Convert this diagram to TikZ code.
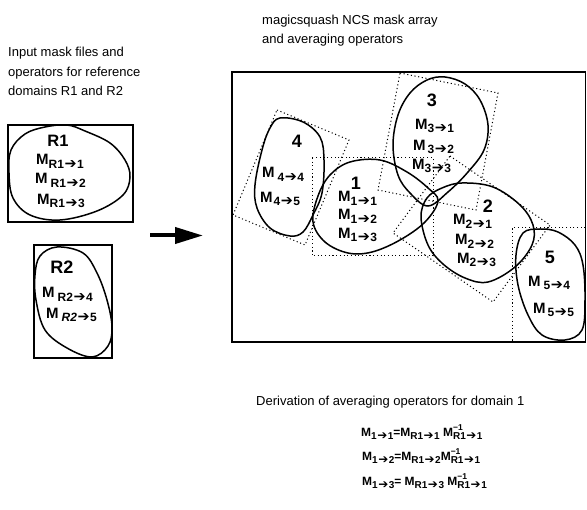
\documentclass[tikz,border=0pt]{standalone}
\usepackage{fontspec}
\setmainfont{Liberation Sans}
\newfontfamily\arrowfont{DejaVu Sans}
\usetikzlibrary{arrows.meta}
\newcommand{\ar}{{\arrowfont\kern0.5pt\scalebox{1.2}{➔}\kern0.5pt}}
\newcommand{\Mop}[2][1pt]{M\kern#1\raisebox{-3.8pt}{\fontsize{12}{12}\selectfont #2}}
\newcommand{\Meq}[1]{M\raisebox{-3pt}{\fontsize{10}{10}\selectfont #1}}
\newcommand{\Minv}[1]{M\makebox[0pt][l]{\raisebox{6.5pt}{\fontsize{8.5}{8.5}\selectfont −1}}\raisebox{-3pt}{\fontsize{10}{10}\selectfont #1}}
\tikzset{
  title/.style={font=\fontsize{13}{13}\selectfont, inner sep=0pt, anchor=base west},
  lab/.style={font=\fontsize{15}{15}\selectfont\bfseries, inner sep=0pt, anchor=west},
  num/.style={font=\fontsize{18}{18}\selectfont\bfseries, inner sep=0pt},
  eqn/.style={font=\fontsize{12}{12}\selectfont\bfseries, inner sep=0pt, anchor=base west},
  blob/.style={line width=1.5pt},
  frame/.style={line width=1.3pt},
  dotbox/.style={line width=1pt, dash pattern=on 1.1pt off 2.6pt},
}
\begin{document}
\begin{tikzpicture}[x=1pt,y=-1pt]
\useasboundingbox (0,0) rectangle (587,510);

% titles
\node[title] (t1) at (262,25) {magicsquash NCS mask array};
\node[title] (t2) at (262,44) {and averaging operators};
\node[title] (l1) at (8,57) {Input mask files and};
\node[title] (l2) at (8,77) {operators for reference};
\node[title] (l3) at (8,96) {domains R1 and R2};

% R1 box
\draw[frame] (8,125) rectangle (133,222);
\draw[blob] plot[smooth cycle, tension=0.6] coordinates {(11,150) (25,134) (45,127) (67,125) (85,131) (110,143) (125,160) (130,177) (123,195) (97,211) (60,220) (30,215) (13,198) (9,173)};
\node[num, font=\fontsize{16.5}{16.5}\selectfont\bfseries] (r1) at (58,141) {R1};
\node[lab] (r11) at (36,161) {\Mop[0pt]{R1\ar1}};
\node[lab] (r12) at (35,180) {\Mop[3pt]{R1\ar2}};
\node[lab] (r13) at (37,201) {\Mop[0pt]{R1\ar3}};

% R2 box
\draw[frame] (34,245) rectangle (112,358);
\draw[blob] plot[smooth cycle, tension=0.6] coordinates {(57,247) (83,253) (97,273) (107,300) (112,327) (108,346) (92,357) (67,348) (45,330) (36,300) (35,275) (40,256)};
\node[num] (r2) at (62,267) {R2};
\node[lab] (r24) at (42,294) {\Mop[3pt]{R2\ar4}};
\node[lab] (r25) at (46,315) {\Mop[3pt]{\textit{R2}\ar5}};

% big arrow
\coordinate (arrS) at (150,235.5);
\coordinate (arrE) at (203,235.5);
\draw[line width=4pt, -{Triangle[length=28pt,width=16pt]}] (arrS) -- (arrE);

% main frame
\draw[frame] (232,72) rectangle (585.5,342);

% dotted boxes
\draw[dotbox] (277,110) -- (349,140) -- (305,245) -- (233,215) -- cycle;
\draw[dotbox] (312,158) rectangle (433,256);
\draw[dotbox] (400,73) -- (498,93) -- (476,210) -- (378,190) -- cycle;
\draw[dotbox] (450,156) -- (550,225) -- (493,302) -- (393,233) -- cycle;
\draw[dotbox] (585.5,228) -- (512,228) -- (512,341);

% blobs
\draw[blob] plot[smooth cycle, tension=0.6] coordinates {(280,118) (303,122) (320,137) (324,160) (322,193) (313,215) (303,232) (290,236) (270,228) (257,208) (255,185) (262,150) (270,128)};
\draw[blob] plot[smooth cycle, tension=0.6] coordinates {(313,222) (318,196) (330,175) (350,162) (380,160) (407,172) (428,188) (438,201) (425,222) (400,240) (372,252) (348,253) (325,242)};
\draw[blob] plot[smooth cycle, tension=0.6] coordinates {(428,206) (410,193) (398,175) (393,145) (398,115) (410,93) (427,80) (445,77) (465,84) (480,100) (488,125) (484,150) (468,172) (448,192)};
\draw[blob] plot[smooth cycle, tension=0.6] coordinates {(421,217) (427,198) (442,188) (462,183) (493,187) (520,205) (533,225) (532,245) (515,267) (488,282) (465,278) (443,264) (428,245)};
\draw[blob] plot[smooth cycle, tension=0.6] coordinates {(523,233) (540,229) (558,232) (575,245) (583,265) (585,300) (582,330) (565,340) (542,335) (528,315) (518,285) (516,255)};

% labels in main panel
\node[num] (n3) at (432,100) {3};
\node[lab] (m31) at (415,126) {\Mop[0pt]{3\ar1}};
\node[lab] (m32) at (413,147) {\Mop[2pt]{3\ar2}};
\node[lab] (m33) at (412,166) {\Mop[0pt]{3\ar3}};

\node[num] (n4) at (297,141) {4};
\node[lab] (m44) at (262,174) {\Mop[3pt]{4\ar4}};
\node[lab] (m45) at (260,199) {\Mop[1pt]{4\ar5}};

\node[num] (n1) at (356,183) {1};
\node[lab] (m11) at (338,198) {\Mop[0pt]{1\ar1}};
\node[lab] (m12) at (338,216) {\Mop[0pt]{1\ar2}};
\node[lab] (m13) at (338,235) {\Mop[0pt]{1\ar3}};

\node[num] (n2) at (488,206) {2};
\node[lab] (m21) at (453,221) {\Mop[0pt]{2\ar1}};
\node[lab] (m22) at (455,241) {\Mop[0pt]{2\ar2}};
\node[lab] (m23) at (457,260) {\Mop[0pt]{2\ar3}};

\node[num] (n5) at (550,257) {5};
\node[lab] (m54) at (528,283) {\Mop[3pt]{5\ar4}};
\node[lab] (m55) at (533,310) {\Mop[2pt]{5\ar5}};

% derivation
\node[title] (der) at (256,406) {Derivation of averaging operators for domain 1};
\node[eqn] (e1) at (361,437) {\Meq{1\ar1}=\Meq{R1\ar1} \Minv{R1\ar1}};
\node[eqn] (e2) at (362,461) {\Meq{1\ar2}=\Meq{R1\ar2}\Minv{R1\ar1}};
\node[eqn] (e3) at (362,486) {\Meq{1\ar3}= \Meq{R1\ar3} \Minv{R1\ar1}};
\end{tikzpicture}
\end{document}
